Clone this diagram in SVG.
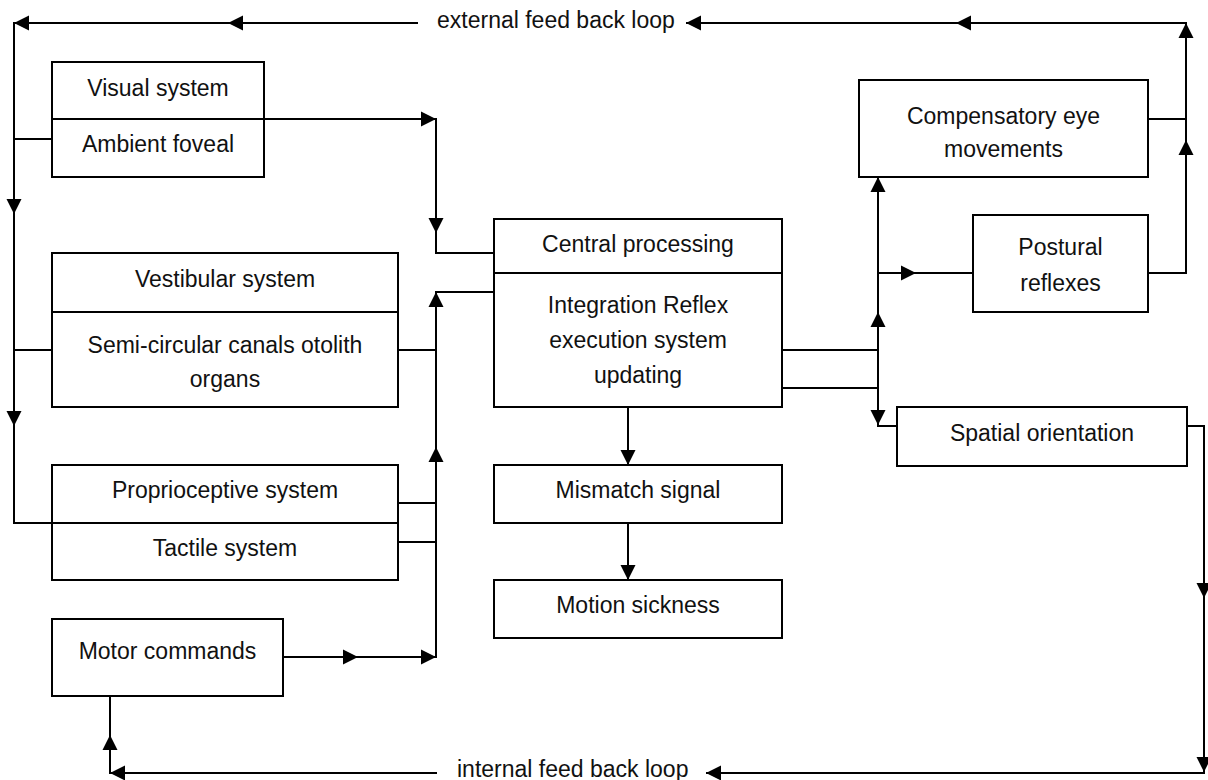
<svg xmlns="http://www.w3.org/2000/svg" width="1208" height="780" viewBox="0 0 1208 780">
<style>
.box{fill:#fff;stroke:#000;stroke-width:2}
.ln{fill:none;stroke:#000;stroke-width:2}
text{font-family:"Liberation Sans",Arial,sans-serif;font-size:23px;fill:#111;text-anchor:middle}
.lbl{text-anchor:start}
</style>
<defs>
<path id="ah" d="M0,0 L-15,-7.5 L-15,7.5 Z" fill="#000"/>
</defs>
<rect width="1208" height="780" fill="#fff"/>
<g id="connectors">
<path class="ln" d="M418,23 H14 V523 H52"/>
<path class="ln" d="M14,139 H52 M14,350 H52"/>
<path class="ln" d="M686,23 H1186 V273 H1148 M1148,119 H1186"/>
<path class="ln" d="M264,119 H436 V253 H494 M494,292 H436 V657 H283"/>
<path class="ln" d="M398,350 H436 M398,503 H436 M398,542 H436"/>
<path class="ln" d="M628,407 V465 M628,523 V580"/>
<path class="ln" d="M782,350 H878 M782,388 H878 M878,177 V426 H897 M878,273 H973"/>
<path class="ln" d="M1187,426 H1204 V773 H706"/>
<path class="ln" d="M437,773 H110 V696"/>
<use href="#ah" transform="translate(14,23) rotate(180)"/>
<use href="#ah" transform="translate(228,23) rotate(180)"/>
<use href="#ah" transform="translate(686,23) rotate(180)"/>
<use href="#ah" transform="translate(956,23) rotate(180)"/>
<use href="#ah" transform="translate(1186,23) rotate(-90)"/>
<use href="#ah" transform="translate(1186,140) rotate(-90)"/>
<use href="#ah" transform="translate(14,214) rotate(90)"/>
<use href="#ah" transform="translate(14,426) rotate(90)"/>
<use href="#ah" transform="translate(436,119)"/>
<use href="#ah" transform="translate(436,233) rotate(90)"/>
<use href="#ah" transform="translate(436,292) rotate(-90)"/>
<use href="#ah" transform="translate(436,447) rotate(-90)"/>
<use href="#ah" transform="translate(358,657)"/>
<use href="#ah" transform="translate(436,657)"/>
<use href="#ah" transform="translate(628,465) rotate(90)"/>
<use href="#ah" transform="translate(628,580) rotate(90)"/>
<use href="#ah" transform="translate(878,177) rotate(-90)"/>
<use href="#ah" transform="translate(916,273)"/>
<use href="#ah" transform="translate(878,312) rotate(-90)"/>
<use href="#ah" transform="translate(878,425) rotate(90)"/>
<use href="#ah" transform="translate(1204,598) rotate(90)"/>
<use href="#ah" transform="translate(1204,772) rotate(90)"/>
<use href="#ah" transform="translate(706,773) rotate(180)"/>
<use href="#ah" transform="translate(110,773) rotate(180)"/>
<use href="#ah" transform="translate(110,735) rotate(-90)"/>
</g>
<g id="labels">
<text class="lbl" x="437" y="28">external feed back loop</text>
<text class="lbl" x="457" y="777">internal feed back loop</text>
</g>
<g id="visual">
<rect class="box" x="52" y="62" width="212" height="115"/>
<line class="ln" x1="52" y1="119" x2="264" y2="119"/>
<text x="158" y="96">Visual system</text>
<text x="158" y="152">Ambient foveal</text>
</g>
<g id="vestibular">
<rect class="box" x="52" y="253" width="346" height="154"/>
<line class="ln" x1="52" y1="312" x2="398" y2="312"/>
<text x="225" y="287">Vestibular system</text>
<text x="225" y="353">Semi-circular canals otolith</text>
<text x="225" y="387">organs</text>
</g>
<g id="proprioceptive">
<rect class="box" x="52" y="465" width="346" height="115"/>
<line class="ln" x1="52" y1="523" x2="398" y2="523"/>
<text x="225" y="498">Proprioceptive system</text>
<text x="225" y="556">Tactile system</text>
</g>
<g id="motor">
<rect class="box" x="52" y="619" width="231" height="77"/>
<text x="167.5" y="659">Motor commands</text>
</g>
<g id="central">
<rect class="box" x="494" y="219" width="288" height="188"/>
<line class="ln" x1="494" y1="273" x2="782" y2="273"/>
<text x="638" y="252">Central processing</text>
<text x="638" y="313">Integration Reflex</text>
<text x="638" y="348">execution system</text>
<text x="638" y="383">updating</text>
</g>
<g id="mismatch">
<rect class="box" x="494" y="465" width="288" height="58"/>
<text x="638" y="498">Mismatch signal</text>
</g>
<g id="motion">
<rect class="box" x="494" y="580" width="288" height="58"/>
<text x="638" y="613">Motion sickness</text>
</g>
<g id="eye">
<rect class="box" x="859" y="80" width="289" height="97"/>
<text x="1003.5" y="124">Compensatory eye</text>
<text x="1003.5" y="157">movements</text>
</g>
<g id="postural">
<rect class="box" x="973" y="215" width="175" height="97"/>
<text x="1060.5" y="255">Postural</text>
<text x="1060.5" y="291">reflexes</text>
</g>
<g id="spatial">
<rect class="box" x="897" y="407" width="290" height="59"/>
<text x="1042" y="441">Spatial orientation</text>
</g>
</svg>
